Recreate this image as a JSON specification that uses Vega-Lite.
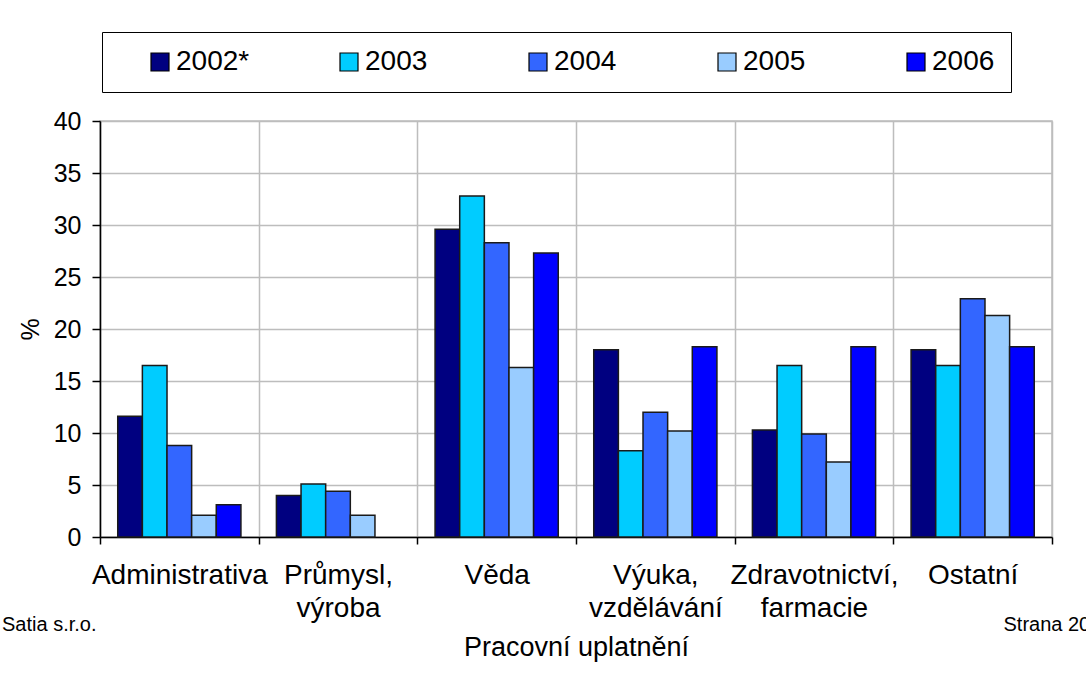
{
  "$schema": "https://vega.github.io/schema/vega-lite/v6.json",
  "width": 952,
  "height": 416,
  "autosize": {"type": "none"},
  "padding": {"left": 100, "top": 121, "right": 34, "bottom": 143},
  "background": "white",
  "config": {
    "font": "Liberation Sans",
    "view": {"stroke": "#bdbdbd", "strokeWidth": 1.5}
  },
  "title": {
    "text": "Satia s.r.o.",
    "orient": "bottom",
    "anchor": "start",
    "frame": "group",
    "fontSize": 20,
    "fontWeight": "normal",
    "color": "black",
    "dx": -98,
    "dy": -45,
    "offset": 0
  },
  "data": {
    "values": [
      {"cat": "Administrativa", "year": "2002*", "value": 11.6},
      {"cat": "Administrativa", "year": "2003", "value": 16.5},
      {"cat": "Administrativa", "year": "2004", "value": 8.8},
      {"cat": "Administrativa", "year": "2005", "value": 2.1},
      {"cat": "Administrativa", "year": "2006", "value": 3.1},
      {"cat": "Průmysl, výroba", "year": "2002*", "value": 4.0},
      {"cat": "Průmysl, výroba", "year": "2003", "value": 5.1},
      {"cat": "Průmysl, výroba", "year": "2004", "value": 4.4},
      {"cat": "Průmysl, výroba", "year": "2005", "value": 2.1},
      {"cat": "Věda", "year": "2002*", "value": 29.6},
      {"cat": "Věda", "year": "2003", "value": 32.8},
      {"cat": "Věda", "year": "2004", "value": 28.3},
      {"cat": "Věda", "year": "2005", "value": 16.3},
      {"cat": "Věda", "year": "2006", "value": 27.3},
      {"cat": "Výuka, vzdělávání", "year": "2002*", "value": 18.0},
      {"cat": "Výuka, vzdělávání", "year": "2003", "value": 8.3},
      {"cat": "Výuka, vzdělávání", "year": "2004", "value": 12.0},
      {"cat": "Výuka, vzdělávání", "year": "2005", "value": 10.2},
      {"cat": "Výuka, vzdělávání", "year": "2006", "value": 18.3},
      {"cat": "Zdravotnictví, farmacie", "year": "2002*", "value": 10.3},
      {"cat": "Zdravotnictví, farmacie", "year": "2003", "value": 16.5},
      {"cat": "Zdravotnictví, farmacie", "year": "2004", "value": 9.9},
      {"cat": "Zdravotnictví, farmacie", "year": "2005", "value": 7.2},
      {"cat": "Zdravotnictví, farmacie", "year": "2006", "value": 18.3},
      {"cat": "Ostatní", "year": "2002*", "value": 18.0},
      {"cat": "Ostatní", "year": "2003", "value": 16.5},
      {"cat": "Ostatní", "year": "2004", "value": 22.9},
      {"cat": "Ostatní", "year": "2005", "value": 21.3},
      {"cat": "Ostatní", "year": "2006", "value": 18.3}
    ]
  },
  "layer": [
    {
      "mark": {"type": "bar", "stroke": "#1a1a1a", "strokeWidth": 1.5},
      "encoding": {
        "x": {
          "field": "cat",
          "type": "nominal",
          "sort": ["Administrativa", "Průmysl, výroba", "Věda", "Výuka, vzdělávání", "Zdravotnictví, farmacie", "Ostatní"],
          "scale": {"paddingInner": 0, "paddingOuter": 0},
          "axis": {
            "title": "Pracovní uplatnění",
            "titleFontSize": 27,
            "titleFontWeight": "normal",
            "titleColor": "black",
            "titleBaseline": "alphabetic",
            "titleY": 118,
            "tickBand": "extent",
            "tickSize": 7,
            "tickColor": "black",
            "tickWidth": 1.5,
            "domainColor": "black",
            "domainWidth": 1.5,
            "grid": true,
            "gridColor": "#bdbdbd",
            "gridWidth": 1.5,
            "labelFontSize": 28,
            "labelColor": "black",
            "labelPadding": 17,
            "labelLineHeight": 33,
            "labelAngle": 0,
            "labelOverlap": false,
            "labelBound": false,
            "labelLimit": 400,
            "labelExpr": "split(replace(datum.label, ', ', ',|'), '|')"
          }
        },
        "xOffset": {
          "field": "year",
          "type": "nominal",
          "sort": ["2002*", "2003", "2004", "2005", "2006"],
          "scale": {"paddingInner": 0, "paddingOuter": 0.72}
        },
        "y": {
          "field": "value",
          "type": "quantitative",
          "scale": {"domain": [0, 40]},
          "axis": {
            "values": [0, 5, 10, 15, 20, 25, 30, 35, 40],
            "title": "%",
            "titleFontSize": 25,
            "titleFontWeight": "normal",
            "titleColor": "black",
            "titlePadding": 10,
            "labelFontSize": 25,
            "labelColor": "black",
            "labelPadding": 11,
            "tickSize": 8,
            "tickColor": "black",
            "tickWidth": 1.5,
            "domainColor": "black",
            "domainWidth": 1.5,
            "gridColor": "#bdbdbd",
            "gridWidth": 1.5
          }
        },
        "color": {
          "field": "year",
          "type": "nominal",
          "scale": {
            "domain": ["2002*", "2003", "2004", "2005", "2006"],
            "range": ["#000080", "#00CCFF", "#3366FF", "#99CCFF", "#0000FF"]
          },
          "legend": {
            "orient": "none",
            "legendX": 2,
            "legendY": -89,
            "direction": "horizontal",
            "columns": 5,
            "gridAlign": "all",
            "columnPadding": 85,
            "padding": 16,
            "fillColor": "white",
            "strokeColor": "black",
            "title": " ",
            "titleOrient": "left",
            "titleFontSize": 2,
            "titlePadding": 28,
            "symbolType": "square",
            "symbolSize": 324,
            "symbolStrokeColor": "black",
            "symbolStrokeWidth": 1.2,
            "symbolOpacity": 1,
            "labelFontSize": 28,
            "labelColor": "black",
            "labelOffset": 2,
            "labelLimit": 300
          }
        }
      }
    },
    {
      "mark": {"type": "rule", "opacity": 0},
      "encoding": {
        "y": {
          "field": "value",
          "type": "quantitative",
          "axis": {
            "orient": "right",
            "title": "Strana 20",
            "titleAngle": 0,
            "titleAlign": "left",
            "titleBaseline": "alphabetic",
            "titleFontSize": 20,
            "titleFontWeight": "normal",
            "titleColor": "black",
            "titleX": -49,
            "titleY": 509,
            "labels": false,
            "ticks": false,
            "domain": false,
            "grid": false
          }
        }
      }
    }
  ],
  "resolve": {"scale": {"y": "independent"}}
}
